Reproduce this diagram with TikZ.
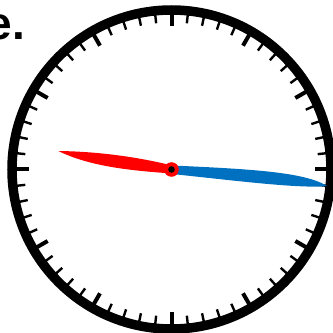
\documentclass[tikz,border=0pt]{standalone}
\usepackage{fontspec}
\setmainfont{Liberation Sans}
\definecolor{handred}{RGB}{255,0,0}
\definecolor{handblue}{RGB}{0,112,192}
\begin{document}
\begin{tikzpicture}[x=1pt,y=1pt,
  majortick/.style={line width=4pt},
  minortick/.style={line width=2.4pt},
  ring/.style={line width=9.5pt},
  caption/.style={anchor=base east,inner sep=0pt,font=\bfseries\fontsize{46}{50}\selectfont}]
\useasboundingbox (0,0) rectangle (333,333);
\node[caption] (cap) at (25.5,293) {e.};
\coordinate (c) at (171.5,163.5);
\begin{scope}[shift={(c)}]
  \foreach \i in {0,...,59}{
    \pgfmathtruncatemacro{\m}{mod(\i,5)}
    \ifnum\m=0
      \draw[majortick] (\i*6:158) -- (\i*6:143);
    \else
      \draw[minortick] (\i*6:158) -- (\i*6:147);
    \fi
  }
  \draw[ring] (0,0) circle (159.5);
\end{scope}
% red hand
\fill[handred] (58.3,182) .. controls (100,181.5) and (140,175.5) .. (172,167.5)
  -- (172,159.5) .. controls (130,162.5) and (90,166.5) .. (58.3,182) -- cycle;
% blue hand
\fill[handblue] (172,167.5) .. controls (250,164) and (305,161) .. (327,147)
  .. controls (300,144) and (230,153) .. (172,159) -- cycle;
\fill[handred] (c) circle (7.3);
\fill[black] (c) circle (3.3);
\end{tikzpicture}
\end{document}
